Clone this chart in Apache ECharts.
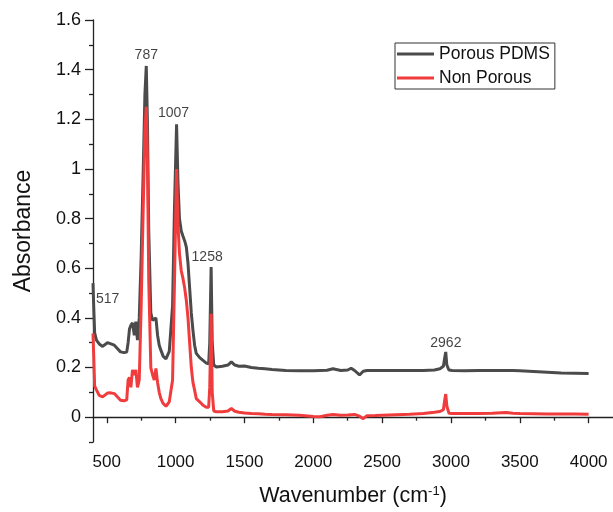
<!DOCTYPE html>
<html>
<head>
<meta charset="utf-8">
<script src="https://cdn.jsdelivr.net/npm/echarts@6/dist/echarts.min.js"></script>
<style>
html,body{margin:0;padding:0;background:#fff;}
#chart{width:613px;height:512px;}
</style>
</head>
<body>
<div id="chart"></div>
<script>
// Wavenumber grid (cm-1)
var wavenumbers = [400,405,412,425,445,470,505,530,555,580,600,625,645,655,665,675,687,700,711,723,736,750,765,777,787,795,805,820,833,845,857,869,881,893,910,930,954,978,992,1007,1017,1028,1041,1053,1066,1078,1090,1102,1114,1126,1138,1150,1175,1199,1223,1240,1248,1258,1266,1277,1296,1340,1380,1405,1430,1460,1500,1550,1600,1650,1700,1800,1900,2000,2050,2100,2143,2200,2250,2275,2300,2336,2350,2363,2390,2450,2500,2600,2700,2800,2880,2920,2945,2955,2962,2970,2985,3010,3100,3200,3300,3400,3450,3500,3600,3700,3800,3900,4000];

// Porous PDMS absorbance
var porousAbs = [0.54,0.45,0.34,0.31,0.295,0.285,0.30,0.295,0.29,0.275,0.263,0.26,0.262,0.30,0.355,0.37,0.38,0.33,0.385,0.31,0.40,0.65,1.0,1.3,1.415,1.2,0.75,0.42,0.39,0.385,0.40,0.33,0.29,0.27,0.245,0.235,0.265,0.45,0.85,1.18,0.95,0.80,0.75,0.73,0.71,0.685,0.62,0.52,0.42,0.35,0.29,0.257,0.24,0.229,0.218,0.215,0.30,0.605,0.30,0.21,0.202,0.205,0.21,0.223,0.21,0.205,0.206,0.200,0.197,0.195,0.192,0.188,0.187,0.187,0.188,0.189,0.195,0.188,0.19,0.197,0.188,0.170,0.172,0.185,0.188,0.188,0.188,0.188,0.188,0.188,0.19,0.195,0.205,0.24,0.263,0.21,0.19,0.188,0.187,0.188,0.188,0.188,0.188,0.187,0.184,0.181,0.178,0.177,0.176];

// Non Porous absorbance
var nonPorousAbs = [0.337,0.25,0.125,0.11,0.088,0.082,0.097,0.098,0.095,0.08,0.068,0.066,0.07,0.15,0.16,0.12,0.19,0.17,0.19,0.12,0.15,0.45,0.85,1.15,1.25,1.05,0.55,0.20,0.17,0.15,0.196,0.14,0.10,0.075,0.055,0.044,0.062,0.15,0.55,1.0,0.78,0.66,0.59,0.56,0.52,0.47,0.40,0.30,0.20,0.14,0.109,0.075,0.062,0.048,0.04,0.04,0.12,0.417,0.10,0.025,0.022,0.022,0.025,0.035,0.024,0.02,0.017,0.015,0.014,0.012,0.011,0.01,0.008,0.003,0.002,0.008,0.011,0.008,0.009,0.01,0.011,0.004,0.0,-0.006,0.006,0.007,0.008,0.01,0.012,0.015,0.02,0.023,0.03,0.07,0.093,0.045,0.016,0.015,0.015,0.015,0.016,0.019,0.016,0.015,0.014,0.013,0.013,0.013,0.012];

// Tick labels
var xTickLabels = [500,1000,1500,2000,2500,3000,3500,4000];
var xMinorTicks = [750,1250,1750,2250,2750,3250,3750];
var yTickLabels = [0,0.2,0.4,0.6,0.8,1.0,1.2,1.4,1.6];
var yMinorTicks = [-0.1,0.1,0.3,0.5,0.7,0.9,1.1,1.3,1.5];

// Peak annotations
var annoText = ['517','787','1007','1258','2962'];
var annoX = [507,787,985,1229,2963];
var annoY = [0.474,1.46,1.223,0.643,0.30];

var seriesNames = ['Porous PDMS','Non Porous'];

function pairs(xs, ys){ return xs.map(function(x,i){ return [x, ys[i]]; }); }

var FONT = 'Liberation Sans, Arial, sans-serif';
var AX = '#222';

var chart = echarts.init(document.getElementById('chart'), null, {renderer:'canvas'});
chart.setOption({
  animation:false,
  backgroundColor:'#fff',
  grid:{left:93, top:20, right:0, bottom:70, containLabel:false},
  legend:{
    data:seriesNames,
    orient:'vertical',
    left:395, top:43,
    icon:'rect', itemWidth:37, itemHeight:3, itemGap:4,
    padding:[1,5,1,2],
    borderColor:'#333', borderWidth:1,
    textStyle:{fontFamily:FONT, fontSize:17.5, lineHeight:20, color:'#111'}
  },
  xAxis:[{
    type:'value', min:400, max:4177, position:'bottom',
    splitLine:{show:false},
    axisLine:{lineStyle:{color:AX, width:1.3}},
    axisTick:{show:true, inside:false, length:6, customValues:xTickLabels, lineStyle:{color:AX, width:1.3}},
    axisLabel:{customValues:xTickLabels, margin:12, fontFamily:FONT, fontSize:17, color:'#111',
      formatter:function(v){ return String(Math.round(v)); }},
    name:'{a|Wavenumber (cm}{s|-1}{a|)}',
    nameLocation:'middle', nameGap:43,
    nameTextStyle:{fontFamily:FONT, fontSize:21.5, color:'#111',
      rich:{a:{fontFamily:FONT, fontSize:21.5, color:'#111'}, s:{fontFamily:FONT, fontSize:13, color:'#111', verticalAlign:'top', padding:[0,0,9,0]}}}
  },{
    type:'value', min:400, max:4177, position:'bottom', gridIndex:0,
    splitLine:{show:false}, axisLine:{show:false}, axisLabel:{show:false},
    axisTick:{show:true, inside:false, length:3.5, customValues:xMinorTicks, lineStyle:{color:AX, width:1.3}}
  }],
  yAxis:[{
    type:'value', min:-0.1, max:1.6, position:'left',
    splitLine:{show:false},
    axisLine:{show:true, lineStyle:{color:AX, width:1.3}},
    axisTick:{show:true, inside:false, length:8, customValues:yTickLabels, lineStyle:{color:AX, width:1.3}},
    axisLabel:{customValues:yTickLabels, margin:12, fontFamily:FONT, fontSize:18, color:'#111',
      formatter:function(v){ return String(+(+v).toFixed(1)); }},
    name:'Absorbance', nameLocation:'middle', nameGap:58, nameRotate:90,
    nameTextStyle:{fontFamily:FONT, fontSize:23, color:'#111'}
  },{
    type:'value', min:-0.1, max:1.6, position:'left', gridIndex:0,
    splitLine:{show:false}, axisLine:{show:false}, axisLabel:{show:false},
    axisTick:{show:true, inside:false, length:4, customValues:yMinorTicks, lineStyle:{color:AX, width:1.3}}
  }],
  series:[{
    name:seriesNames[0], type:'line', xAxisIndex:0, yAxisIndex:0,
    data:pairs(wavenumbers, porousAbs), showSymbol:false, symbol:'none',
    lineStyle:{color:'#4b4b4b', width:3}, itemStyle:{color:'#4b4b4b'}
  },{
    name:seriesNames[1], type:'line', xAxisIndex:0, yAxisIndex:0,
    data:pairs(wavenumbers, nonPorousAbs), showSymbol:false, symbol:'none',
    lineStyle:{color:'#f03c3c', width:3}, itemStyle:{color:'#f03c3c'}
  },{
    name:'labels', type:'scatter', xAxisIndex:0, yAxisIndex:0,
    symbolSize:0, silent:true,
    data:annoText.map(function(t,i){ return {name:t, value:[annoX[i], annoY[i]]}; }),
    label:{show:true, position:'inside', formatter:'{b}', fontFamily:FONT, fontSize:14, color:'#111'}
  }]
});
</script>
</body>
</html>
